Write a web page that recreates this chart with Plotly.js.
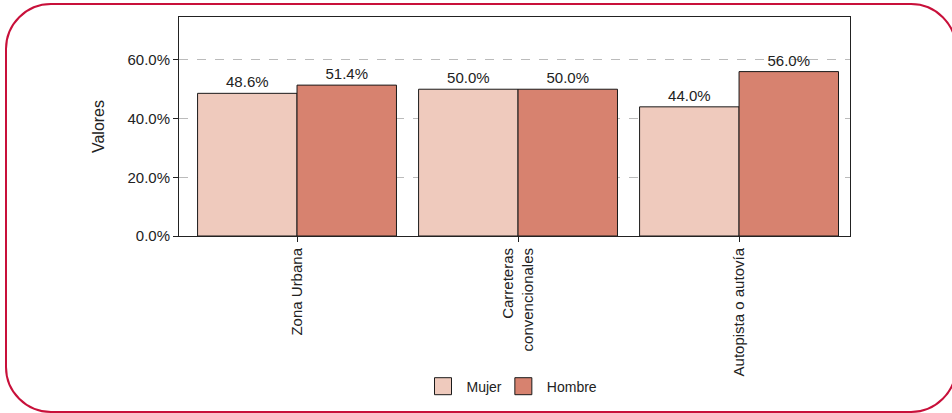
<!DOCTYPE html>
<html>
<head>
<meta charset="utf-8">
<script src="https://cdn.plot.ly/plotly-3.0.1.min.js"></script>
<style>
html,body{margin:0;padding:0;background:#fff;}
#wrap{position:relative;width:952px;height:413px;overflow:hidden;}
#chart{width:952px;height:413px;}
#frame{position:absolute;left:5px;top:3px;width:948px;height:406px;border:2px solid #c8103a;border-radius:46px;pointer-events:none;box-sizing:content-box;}
</style>
</head>
<body>
<div id="wrap">
<div id="chart"></div>
<div id="frame"></div>
</div>
<script>
const categories = ["Zona Urbana", "Carreteras<br>convencionales", "Autopista o autovía"];
const mujer = [0.486, 0.500, 0.440];
const hombre = [0.514, 0.500, 0.560];
const seriesNames = ["Mujer", "Hombre"];
const tickVals = [0, 0.2, 0.4, 0.6];
const tickText = ["0.0%", "20.0%", "40.0%", "60.0%"];

const font = "Liberation Sans, Arial, Helvetica, sans-serif";
function barTrace(name, y, color) {
  return {
    type: "bar", name: name, x: categories, y: y,
    marker: {color: color, line: {color: "#1a1a1a", width: 1}},
    text: y.map(v => (v * 100).toFixed(1) + "%"),
    textposition: "outside",
    textfont: {family: font, size: 15, color: "#222"},
    cliponaxis: false,
    hoverinfo: "x+y"
  };
}
const data = [
  barTrace(seriesNames[0], mujer, "#efcabd"),
  barTrace(seriesNames[1], hombre, "#d7826f")
];
const layout = {
  width: 952, height: 413,
  margin: {l: 179, r: 102, t: 17, b: 176, pad: 0},
  paper_bgcolor: "#fff", plot_bgcolor: "#fff",
  font: {family: font, color: "#222"},
  barmode: "group", bargap: 0.1, bargroupgap: 0,
  showlegend: true,
  legend: {orientation: "h", x: 0.5, xanchor: "center", y: -0.68, yanchor: "middle",
           font: {size: 14, family: font, color: "#222"}, traceorder: "normal"},
  xaxis: {
    type: "category", range: [-0.534, 2.502],
    tickangle: -90, tickfont: {size: 15, family: font, color: "#222"},
    ticks: "outside", ticklen: 5, tickcolor: "#222",
    showline: true, linecolor: "#222", linewidth: 1, mirror: true,
    showgrid: false, zeroline: false, automargin: false
  },
  yaxis: {
    range: [0, 0.746], tickvals: tickVals, ticktext: tickText,
    tickfont: {size: 15, family: font, color: "#222"},
    ticks: "outside", ticklen: 5, tickcolor: "#222",
    showline: true, linecolor: "#222", linewidth: 1, mirror: true,
    showgrid: true, gridcolor: "#bbbbbb", griddash: "dash", gridwidth: 1,
    zeroline: false, automargin: false,
    title: {text: "Valores", font: {size: 16, family: font, color: "#222"}, standoff: 18}
  }
};
Plotly.newPlot("chart", data, layout, {displayModeBar: false, staticPlot: true}).then(gd => {
  gd.querySelectorAll(".legend .legendpoints path").forEach(p => {
    p.setAttribute("d", "M5,8.5H-12V-8.5H5Z");
  });
});
</script>
</body>
</html>
